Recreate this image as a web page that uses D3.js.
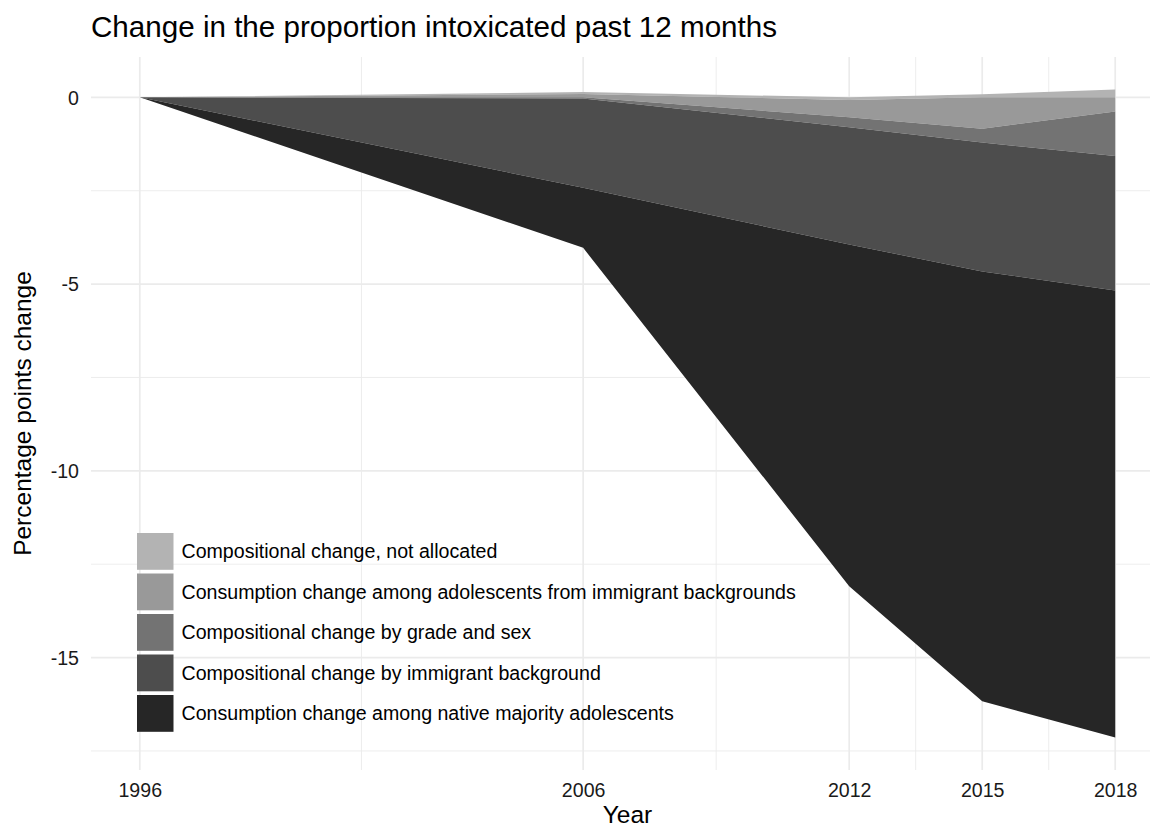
<!DOCTYPE html>
<html>
<head>
<meta charset="utf-8">
<script src="https://cdn.jsdelivr.net/npm/d3@7"></script>
<style>
  html, body { margin: 0; padding: 0; background: #ffffff; }
  svg { display: block; font-family: "Liberation Sans", Arial, sans-serif; }
</style>
</head>
<body>
<svg id="chart" width="1150" height="830"></svg>
<script>
// ---- data ----
const years = [1996, 2006, 2012, 2015, 2018];
const seriesNames = [
  "Compositional change, not allocated",
  "Consumption change among adolescents from immigrant backgrounds",
  "Compositional change by grade and sex",
  "Compositional change by immigrant background",
  "Consumption change among native majority adolescents"
];
const notAllocated      = [0,  0.05, -0.07,  0.08,  0.21];
const immigConsumption  = [0,  0.09, -0.46, -0.84, -0.38];
const gradeSex          = [0, -0.03, -0.27, -0.37, -1.19];
const immigBackground   = [0, -2.39, -3.14, -3.45, -3.60];
const nativeConsumption = [0, -1.61, -9.15, -11.51, -11.97];
const seriesValues = [notAllocated, immigConsumption, gradeSex, immigBackground, nativeConsumption];
const fills = ["#b3b3b3", "#999999", "#737373", "#4d4d4d", "#262626"];
const xMajorTicks = [1996, 2006, 2012, 2015, 2018];
const xMinorTicks = [2001, 2009, 2013.5, 2016.5];
const yMajorTicks = [0, -5, -10, -15];
const yMinorTicks = [-2.5, -7.5, -12.5, -17.5];
const titleText = "Change in the proportion intoxicated past 12 months";
const xTitle = "Year";
const yTitle = "Percentage points change";

// ---- table for the stack ----
const table = years.map((yr, j) => {
  const row = { year: yr };
  seriesNames.forEach((k, i) => { row[k] = seriesValues[i][j]; });
  return row;
});

// ggplot-like stacking: positives stacked with first group on top,
// negatives stacked with first group nearest zero.
function offsetGg(series, order) {
  const n = series.length;
  if (!n) return;
  const m = series[order[0]].length;
  for (let j = 0; j < m; ++j) {
    let yp = 0, yn = 0;
    for (let i = n - 1; i >= 0; --i) {
      const d = series[order[i]][j];
      const dy = d[1] - d[0];
      if (dy > 0) { d[0] = yp; d[1] = yp += dy; }
    }
    for (let i = 0; i < n; ++i) {
      const d = series[order[i]][j];
      const dy = d[1] - d[0];
      if (dy < 0) { d[1] = yn; d[0] = yn += dy; }
      else if (dy === 0) { d[0] = 0; d[1] = 0; }
    }
  }
}
const stacked = d3.stack().keys(seriesNames).order(d3.stackOrderNone).offset(offsetGg)(table);

// ---- layout ----
const svg = d3.select("#chart");
const panel = { left: 91, right: 1164, top: 57, bottom: 770 };
const x = d3.scaleLinear().domain([1994.9, 2019.1]).range([panel.left, panel.right]);
const y = d3.scaleLinear().domain([-18.01, 1.08]).range([panel.bottom, panel.top]);

const grid = svg.append("g");
grid.selectAll(".ymin").data(yMinorTicks).join("line")
  .attr("x1", panel.left).attr("x2", panel.right)
  .attr("y1", d => y(d)).attr("y2", d => y(d))
  .attr("stroke", "#ebebeb").attr("stroke-width", 0.9);
grid.selectAll(".xmin").data(xMinorTicks).join("line")
  .attr("y1", panel.top).attr("y2", panel.bottom)
  .attr("x1", d => x(d)).attr("x2", d => x(d))
  .attr("stroke", "#ebebeb").attr("stroke-width", 0.9);
grid.selectAll(".ymaj").data(yMajorTicks).join("line")
  .attr("x1", panel.left).attr("x2", panel.right)
  .attr("y1", d => y(d)).attr("y2", d => y(d))
  .attr("stroke", "#ebebeb").attr("stroke-width", 1.7);
grid.selectAll(".xmaj").data(xMajorTicks).join("line")
  .attr("y1", panel.top).attr("y2", panel.bottom)
  .attr("x1", d => x(d)).attr("x2", d => x(d))
  .attr("stroke", "#ebebeb").attr("stroke-width", 1.7);

// ---- areas ----
const area = d3.area()
  .x(d => x(d.data.year))
  .y0(d => y(d[0]))
  .y1(d => y(d[1]));
svg.append("g").selectAll("path").data(stacked).join("path")
  .attr("d", area)
  .attr("fill", (d, i) => fills[i]);

// ---- axes ----
const xAxis = d3.axisBottom(x).tickValues(xMajorTicks).tickFormat(d3.format("d")).tickSize(0).tickPadding(0);
const gx = svg.append("g").attr("transform", `translate(0,${797})`).call(xAxis);
gx.select(".domain").remove();
gx.selectAll("text").attr("dy", 0).attr("y", 0)
  .attr("font-size", 19.6).attr("fill", "#1a1a1a")
  .attr("font-family", "Liberation Sans, Arial, sans-serif");

const yAxis = d3.axisLeft(y).tickValues(yMajorTicks).tickFormat(d => String(d)).tickSize(0).tickPadding(0);
const gy = svg.append("g").attr("transform", `translate(${79},0)`).call(yAxis);
gy.select(".domain").remove();
gy.selectAll("text").attr("x", 0).attr("dy", "0.35em")
  .attr("font-size", 19.6).attr("fill", "#1a1a1a")
  .attr("font-family", "Liberation Sans, Arial, sans-serif");

// ---- titles ----
svg.append("text").attr("x", 91).attr("y", 37)
  .attr("font-size", 29.6).attr("fill", "#000").text(titleText);
svg.append("text").attr("x", (panel.left + panel.right) / 2).attr("y", 823)
  .attr("text-anchor", "middle").attr("font-size", 24.5).attr("fill", "#000").text(xTitle);
svg.append("text")
  .attr("transform", `translate(31,${(panel.top + panel.bottom) / 2}) rotate(-90)`)
  .attr("text-anchor", "middle").attr("font-size", 24.5).attr("fill", "#000").text(yTitle);

// ---- legend ----
const legend = svg.append("g").attr("transform", "translate(137,533)");
const pitch = 40.5;
const items = legend.selectAll("g").data(seriesNames).join("g")
  .attr("transform", (d, i) => `translate(0,${i * pitch})`);
items.append("rect").attr("x", 0).attr("y", 0).attr("width", 36.5).attr("height", 36.8)
  .attr("fill", (d, i) => fills[i]);
items.append("text").attr("x", 44.5).attr("y", 18.4).attr("dy", "0.35em")
  .attr("font-size", 19.6).attr("fill", "#000").text(d => d);
</script>
</body>
</html>
